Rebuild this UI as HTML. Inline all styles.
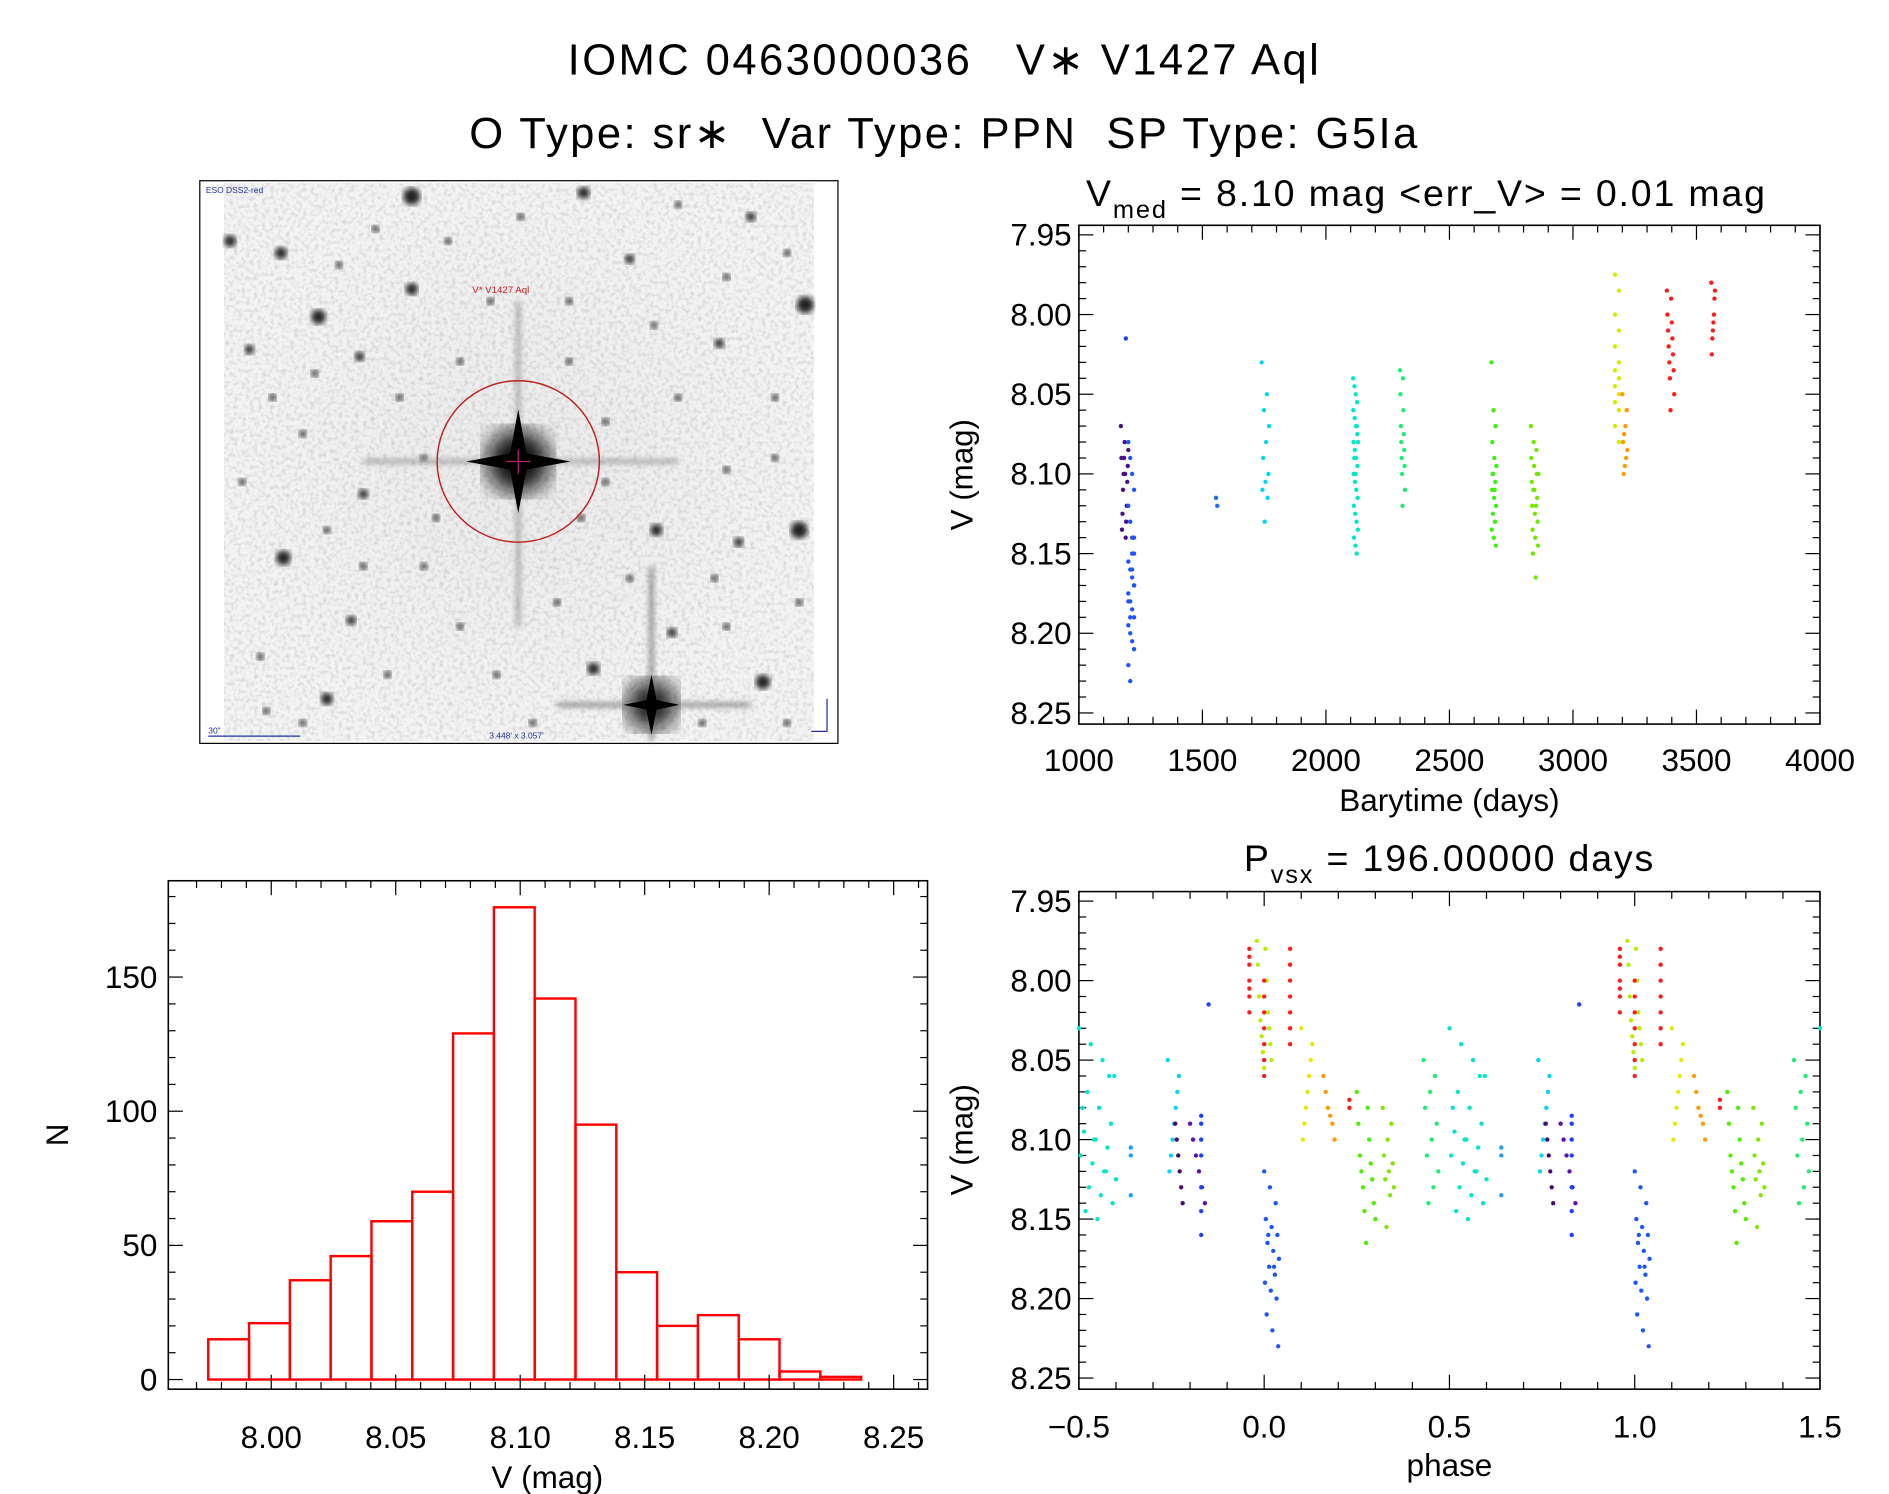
<!DOCTYPE html>
<html><head><meta charset="utf-8"><style>
html,body{margin:0;padding:0;background:#fff;}
svg{display:block;font-family:"Liberation Sans",sans-serif;}
</style></head><body>
<svg id="fig" width="1889" height="1494" viewBox="0 0 1560 1240" preserveAspectRatio="none" xmlns="http://www.w3.org/2000/svg">
<text x="780" y="62" font-size="36" text-anchor="middle" letter-spacing="2" xml:space="preserve">IOMC 0463000036   V∗ V1427 Aql</text>
<text x="780" y="123" font-size="36" text-anchor="middle" letter-spacing="2" xml:space="preserve">O Type: sr∗  Var Type: PPN  SP Type: G5Ia</text>
<g id="img"></g>
<g id="ts"></g>
<g id="ph"></g>
<g id="hist"></g>
</svg>
<script>
// ---- histogram data ----
const histBinStart = 7.9747;
const histBinWidth = 0.01639;
const histCounts = [15,21,37,46,59,70,129,176,142,95,40,20,24,15,3,1];
const histXTicks = ["8.00","8.05","8.10","8.15","8.20","8.25"];
const histYTicks = ["0","50","100","150"];
// ---- light-curve data (time ranges, colours, magnitudes) ----
const tsStart = [1170,1190,1200,1555,1740,2110,2300,2670,2830,3170,3200,3380,3560];
const tsEnd   = [1200,1190,1230,1560,1770,2130,2320,2690,2860,3200,3220,3410,3575];
const tsColor = ["#4a0a8a","#1a40ff","#1a55ff","#1a6aff","#00d8f0","#00e8c8","#20ee70","#40ee10","#70e800","#d8e800","#ff9a00","#ff1a1a","#ff1a1a"];
const tsMags = [
 [8.07,8.08,8.085,8.09,8.095,8.10,8.105,8.11,8.12,8.125,8.13,8.135,8.14,8.09,8.10],
 [8.015],
 [8.08,8.09,8.10,8.11,8.12,8.13,8.14,8.15,8.155,8.16,8.165,8.17,8.175,8.18,8.185,8.19,8.195,8.20,8.205,8.21,8.22,8.23,8.16,8.17,8.18,8.19,8.15,8.14],
 [8.115,8.12],
 [8.03,8.05,8.06,8.07,8.08,8.09,8.10,8.105,8.11,8.115,8.13],
 [8.04,8.045,8.05,8.055,8.06,8.065,8.07,8.075,8.08,8.085,8.09,8.095,8.10,8.105,8.11,8.115,8.12,8.125,8.13,8.135,8.14,8.145,8.15,8.08,8.09,8.10,8.07],
 [8.035,8.04,8.05,8.06,8.07,8.075,8.08,8.085,8.09,8.095,8.10,8.11,8.12],
 [8.03,8.06,8.07,8.08,8.09,8.095,8.10,8.105,8.11,8.115,8.12,8.125,8.13,8.135,8.14,8.145,8.10,8.11],
 [8.07,8.08,8.085,8.09,8.095,8.10,8.105,8.11,8.115,8.12,8.125,8.13,8.135,8.14,8.145,8.15,8.165,8.10,8.11,8.12],
 [7.975,7.985,8.00,8.01,8.02,8.03,8.035,8.04,8.045,8.05,8.055,8.06,8.07,8.08],
 [8.05,8.06,8.07,8.075,8.08,8.085,8.09,8.095,8.10],
 [7.985,7.99,8.00,8.005,8.01,8.015,8.02,8.025,8.03,8.035,8.04,8.05,8.06],
 [7.98,7.985,7.99,8.00,8.005,8.01,8.015,8.025]
];
const tsXTicks = ["1000","1500","2000","2500","3000","3500","4000"];
const magTicks = ["7.95","8.00","8.05","8.10","8.15","8.20","8.25"];
// ---- phase data ----
const phStart = [0.43,0.50,0.64,0.74,0.76,0.80,0.83,0.85,0.96,0.98,0.00,0.00,0.07,0.10,0.16,0.23,0.25,0.32];
const phEnd   = [0.47,0.60,0.64,0.77,0.78,0.84,0.88,0.85,0.97,0.02,0.03,0.04,0.09,0.13,0.19,0.23,0.30,0.35];
const phColor = ["#20ee70","#00e8c8","#1aa0ff","#00d8f0","#4a0a6a","#5a10b0","#1a40ff","#1a40ff","#ff1a1a","#b8ee00","#ff1a1a","#1a55ff","#ff1a1a","#e8e800","#ff9a00","#ff1a1a","#50ee00","#80e800"];
const phMags = [
 [8.05,8.06,8.07,8.08,8.09,8.10,8.11,8.12,8.13,8.14],
 [8.03,8.04,8.05,8.06,8.07,8.08,8.09,8.095,8.10,8.105,8.11,8.115,8.12,8.125,8.13,8.135,8.14,8.145,8.15,8.06,8.08,8.10,8.12],
 [8.105,8.11,8.135],
 [8.05,8.06,8.07,8.08,8.09,8.10,8.11,8.12],
 [8.09,8.10,8.11,8.12,8.13,8.14],
 [8.09,8.10,8.11,8.12,8.13,8.14],
 [8.085,8.09,8.10,8.11,8.13,8.145,8.16],
 [8.015],
 [7.98,7.985,7.99,8.00,8.005,8.01,8.02],
 [7.975,7.98,7.99,8.00,8.01,8.02,8.025,8.03,8.035,8.04,8.045,8.05,8.055],
 [8.00,8.01,8.02,8.03,8.04,8.05,8.06],
 [8.12,8.13,8.14,8.15,8.155,8.16,8.165,8.17,8.175,8.18,8.185,8.19,8.195,8.20,8.21,8.22,8.23,8.16,8.18],
 [7.98,7.99,8.00,8.01,8.02,8.03,8.04],
 [8.03,8.04,8.05,8.06,8.07,8.08,8.09,8.10],
 [8.06,8.07,8.08,8.085,8.09,8.10],
 [8.075,8.08],
 [8.07,8.08,8.09,8.10,8.11,8.115,8.12,8.125,8.13,8.14,8.145,8.15,8.165],
 [8.08,8.09,8.10,8.11,8.115,8.12,8.125,8.13,8.135,8.155]
];
const phXTicks = ["−0.5","0.0","0.5","1.0","1.5"];

const NS="http://www.w3.org/2000/svg";
function mk(parent,tag,attrs,txt){const e=document.createElementNS(NS,tag);for(const k in attrs)e.setAttribute(k,attrs[k]);if(txt!==undefined)e.textContent=txt;parent.appendChild(e);return e;}

// ---------- sky image ----------
const img=document.getElementById('img');
let e=mk(img,'rect',{x:165,y:150,width:527,height:467,fill:'#fff',stroke:'#000','stroke-width':1});


mk(img,'defs',{}).innerHTML='<radialGradient id="bg"><stop offset="0" stop-color="#ebebeb"/><stop offset="1" stop-color="#f4f4f4"/></radialGradient><filter id="bl"><feGaussianBlur stdDeviation="2.5"/></filter><filter id="bl2"><feGaussianBlur stdDeviation="9"/></filter><filter id="nz" x="0" y="0" width="1" height="1"><feTurbulence type="fractalNoise" baseFrequency="0.3" numOctaves="2" seed="3"/><feColorMatrix type="matrix" values="0 0 0 0 0  0 0 0 0 0  0 0 0 0 0  0 0 0 -2.2 1.25"/></filter>';
e=mk(img,'rect',{x:185,y:152,width:487,height:463,fill:'url(#bg)'});


e=mk(img,'rect',{x:185,y:152,width:487,height:463,filter:'url(#nz)',opacity:0.13});


const stars=[[340,163,7],[482,160,5],[665,253,7],[263,263,6],[297,296,4],[232,210,5],[206,290,4],[660,440,7],[630,566,6],[234,463,6],[542,440,5],[290,515,4],[340,240,5],[594,285,4],[490,555,5],[270,580,5],[520,215,4],[610,450,4],[555,525,4],[300,410,4],[405,250,3],[620,180,4],[190,200,5],[470,300,3],[250,360,3],[560,330,3],[380,520,3],[350,470,3],[580,600,3],[460,500,3],[215,545,3],[640,330,3],[330,330,3],[270,440,3],[520,480,3],[600,390,3],
[200,400,3],[225,330,3],[310,190,3],[370,200,3],[430,180,3],[560,170,3],[600,230,3],[650,210,3],[640,380,3],[660,500,3],[600,520,3],[500,400,3],[480,430,3],[360,430,3],[320,560,3],[410,560,3],[250,600,3],[220,590,3],[300,470,3],[500,350,3],[540,270,3],[380,300,3],[260,310,3],[440,600,3],[650,600,3],[590,480,3],[350,380,3],[280,220,3],[470,250,3]];
stars.forEach(s=>{const c=mk(img,'circle',{cx:s[0],cy:s[1],r:s[2],fill:'#222',filter:'url(#bl)'});});
e=mk(img,'circle',{cx:428,cy:383,r:26,fill:'#111',filter:'url(#bl2)'});


mk(img,'path',{d:'M428 250 L428 520 M300 383 L560 383',stroke:'#999','stroke-width':3,filter:'url(#bl)'});
mk(img,'path',{d:'M428 340 L436 383 L428 426 L420 383 Z M385 383 L428 375 L471 383 L428 391 Z',fill:'#000'});
e=mk(img,'circle',{cx:538,cy:585,r:20,fill:'#111',filter:'url(#bl2)'});


mk(img,'path',{d:'M538 470 L538 615 M460 585 L620 585',stroke:'#777','stroke-width':3,filter:'url(#bl)'});
mk(img,'path',{d:'M538 560 L543 585 L538 610 L533 585 Z M515 585 L538 580 L561 585 L538 590 Z',fill:'#000'});
e=mk(img,'circle',{cx:428,cy:383,r:67,fill:'none',stroke:'#c02020','stroke-width':1.2});


mk(img,'path',{d:'M418 383 L438 383 M428 373 L428 393',stroke:'#c02070','stroke-width':1});
mk(img,'text',{x:390,y:243,'font-size':8,fill:'#c02020'},'V* V1427 Aql');
mk(img,'text',{x:170,y:160,'font-size':7,fill:'#2030a0'},'ESO DSS2-red');
mk(img,'text',{x:404,y:613,'font-size':7,fill:'#2030a0'},'3.448\' x 3.057\'');
mk(img,'text',{x:172,y:609,'font-size':7,fill:'#2030a0'},'30"');
mk(img,'path',{d:'M172 611 L248 611 M683 580 L683 607 L670 607',stroke:'#2030a0',fill:'none','stroke-width':1});

// ---------- generic axes ----------
function magY(y0,y1){const top=7.944,bot=8.257;return v=>y0+(v-top)/(bot-top)*(y1-y0);}
function frame(g,x0,y0,x1,y1,name){const r=mk(g,'rect',{x:x0,y:y0,width:x1-x0,height:y1-y0,fill:'none',stroke:'#000','stroke-width':1.3});}
function magAxis(g,x0,x1,Y){
  for(let v=7.95;v<=8.2501;v+=0.01){const y=Y(v);const maj=Math.abs(Math.round(v*100)%5)===0;const L=maj?12:6;
    mk(g,'line',{x1:x0,y1:y,x2:x0+L,y2:y,stroke:'#000','stroke-width':1});mk(g,'line',{x1:x1,y1:y,x2:x1-L,y2:y,stroke:'#000','stroke-width':1});}
  magTicks.forEach(t=>{const tx=mk(g,'text',{x:x0-6,y:Y(parseFloat(t))+9,'font-size':26,'text-anchor':'end'},t);});
}

// ---------- light curve ----------
const ts=document.getElementById('ts');
const tX0=891,tX1=1503,tY0=187,tY1=601;
const TX=t=>tX0+(t-1000)/3000*(tX1-tX0);const TY=magY(tY0,tY1);
frame(ts,tX0,tY0,tX1,tY1,'lightcurve-frame');
magAxis(ts,tX0,tX1,TY);
for(let t=1000;t<=4000;t+=100){const x=TX(t);const L=t%500===0?12:6;mk(ts,'line',{x1:x,y1:tY1,x2:x,y2:tY1-L,stroke:'#000'});mk(ts,'line',{x1:x,y1:tY0,x2:x,y2:tY0+L,stroke:'#000'});}
tsXTicks.forEach(t=>{const tx=mk(ts,'text',{x:TX(+t),y:640,'font-size':26,'text-anchor':'middle'},t);});
e=mk(ts,'text',{x:1197,y:673,'font-size':26,'text-anchor':'middle'},'Barytime (days)');


e=mk(ts,'text',{x:0,y:0,'font-size':26,'text-anchor':'middle',transform:'translate(803,394) rotate(-90)'},'V (mag)');


e=mk(ts,'text',{x:1178,y:171,'font-size':31,'text-anchor':'middle','letter-spacing':1.5,'xml:space':'preserve'});
e.innerHTML='V<tspan font-size="21" dy="10">med</tspan><tspan dy="-10">  =  8.10 mag &lt;err_V&gt;  =  0.01  mag</tspan>';


tsMags.forEach((arr,k)=>{arr.forEach((m,i)=>{const f=arr.length>1?((i*7)%arr.length)/(arr.length-1):0;const t=tsStart[k]+f*(tsEnd[k]-tsStart[k]);
  const c=mk(ts,'circle',{cx:TX(t),cy:TY(m),r:1.8,fill:tsColor[k]});
  
  });});

// ---------- phase plot ----------
const ph=document.getElementById('ph');
const pX0=891,pX1=1503,pY0=740,pY1=1153;
const PX=p=>pX0+(p+0.5)/2*(pX1-pX0);const PY=magY(pY0,pY1);
frame(ph,pX0,pY0,pX1,pY1,'phase-frame');
magAxis(ph,pX0,pX1,PY);
for(let i=0;i<=20;i++){const p=-0.5+i*0.1;const x=PX(p);const L=i%5===0?12:6;mk(ph,'line',{x1:x,y1:pY1,x2:x,y2:pY1-L,stroke:'#000'});mk(ph,'line',{x1:x,y1:pY0,x2:x,y2:pY0+L,stroke:'#000'});}
phXTicks.forEach(t=>{const tx=mk(ph,'text',{x:PX(parseFloat(t.replace('−','-'))),y:1193,'font-size':26,'text-anchor':'middle'},t);});
e=mk(ph,'text',{x:1197,y:1225,'font-size':26,'text-anchor':'middle'},'phase');


e=mk(ph,'text',{x:0,y:0,'font-size':26,'text-anchor':'middle',transform:'translate(803,946) rotate(-90)'},'V (mag)');


e=mk(ph,'text',{x:1197,y:723,'font-size':31,'text-anchor':'middle','letter-spacing':1.5,'xml:space':'preserve'});
e.innerHTML='P<tspan font-size="21" dy="10">vsx</tspan><tspan dy="-10">  =  196.00000  days</tspan>';


phMags.forEach((arr,k)=>{let s=phStart[k],en=phEnd[k];if(en<s)en+=1;arr.forEach((m,i)=>{const f=arr.length>1?((i*7)%arr.length)/(arr.length-1):0;let p=s+f*(en-s);p=p%1;
  [p-1,p,p+1].forEach(q=>{if(q<-0.5||q>1.5)return;const c=mk(ph,'circle',{cx:PX(q),cy:PY(m),r:1.8,fill:phColor[k]});
  
  });});});

// ---------- histogram ----------
const hg=document.getElementById('hist');
const hX0=139,hX1=766,hY0=731,hY1=1153;
const HX=v=>224+(v-8.0)*2056;const HY=n=>1145-n*2.227;
histCounts.forEach((n,i)=>{const a=histBinStart+i*histBinWidth;const r=mk(hg,'rect',{x:HX(a),y:HY(n),width:HX(a+histBinWidth)-HX(a),height:HY(0)-HY(n),fill:'none',stroke:'#ff0000','stroke-width':2});
  
  });
frame(hg,hX0,hY0,hX1,hY1,'histogram-frame');
for(let i=-3;i<=27;i++){const v=8.0+i*0.01;const x=HX(v);if(x<hX0||x>hX1)continue;const L=i%5===0?12:6;mk(hg,'line',{x1:x,y1:hY1,x2:x,y2:hY1-L,stroke:'#000'});mk(hg,'line',{x1:x,y1:hY0,x2:x,y2:hY0+L,stroke:'#000'});}
for(let n=0;n<=180;n+=10){const y=HY(n);const L=n%50===0?12:6;mk(hg,'line',{x1:hX0,y1:y,x2:hX0+L,y2:y,stroke:'#000'});mk(hg,'line',{x1:hX1,y1:y,x2:hX1-L,y2:y,stroke:'#000'});}
histXTicks.forEach(t=>{const tx=mk(hg,'text',{x:HX(+t),y:1202,'font-size':26,'text-anchor':'middle'},t);});
histYTicks.forEach(t=>{const tx=mk(hg,'text',{x:130,y:HY(+t)+9,'font-size':26,'text-anchor':'end'},t);});
e=mk(hg,'text',{x:452,y:1235,'font-size':26,'text-anchor':'middle'},'V (mag)');


e=mk(hg,'text',{x:0,y:0,'font-size':26,'text-anchor':'middle',transform:'translate(56,942) rotate(-90)'},'N');


</script>
</body></html>
